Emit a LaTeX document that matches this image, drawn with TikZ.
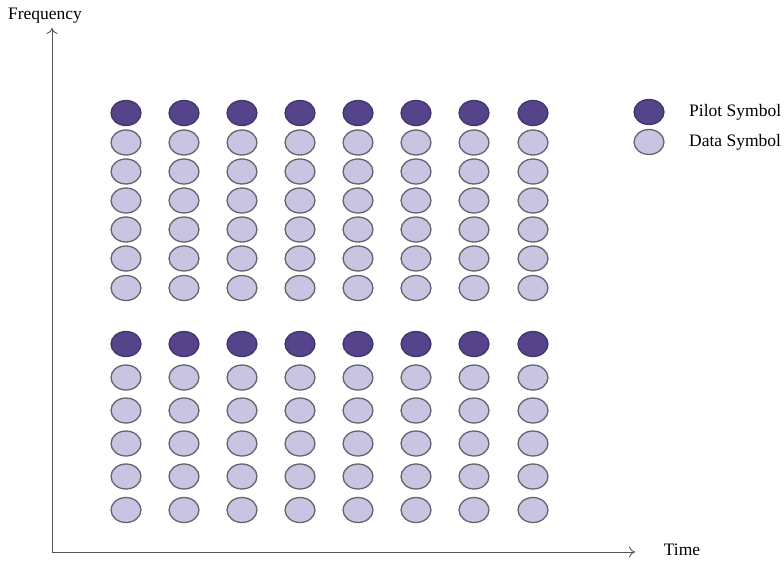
\documentclass[tikz,border=0pt]{standalone}
\usepackage{fontspec}
\setmainfont{Liberation Serif}
\usetikzlibrary{shapes.geometric,arrows.meta}
\definecolor{pilotfill}{RGB}{86,68,138}
\definecolor{pilotline}{RGB}{66,52,108}
\definecolor{datafill}{RGB}{200,196,226}
\definecolor{dataline}{RGB}{100,100,108}
\definecolor{axiscol}{RGB}{85,85,85}
\tikzset{
  sym/.style={ellipse, minimum width=30pt, minimum height=25pt, inner sep=0pt, line width=1.3pt},
  pilot/.style={sym, fill=pilotfill, draw=pilotline},
  data/.style={sym, fill=datafill, draw=dataline},
  axis/.style={draw=axiscol, line width=0.9pt, -{To[length=6pt,width=11pt]}},
  lbl/.style={font=\fontsize{17.5}{19}\selectfont, inner sep=0pt, text=black}
}
\begin{document}
\begin{tikzpicture}[x=1pt,y=-1pt]
\useasboundingbox (0,0) rectangle (784,560);
% axes
\coordinate (O) at (52,552);
\coordinate (ytop) at (52,28);
\coordinate (xend) at (635,552);
\draw[axis] (O) -- (ytop);
\draw[axis] (O) -- (xend);
\node[lbl] (freq) at (45,16) {Frequency};
\node[lbl] (time) at (682,550) {Time};
% grid
\foreach \c/\x in {1/126,2/184,3/242,4/300,5/358,6/416,7/474,8/533} {
  \node[pilot] (a-\c-1) at (\x,113) {};
  \foreach \r/\y in {2/142.5,3/171.5,4/200.5,5/229.5,6/258.5,7/288} {
    \node[data] (a-\c-\r) at (\x,\y) {};
  }
  \node[pilot] (b-\c-1) at (\x,344) {};
  \foreach \r/\y in {2/377.5,3/410.5,4/443.5,5/476.5,6/510} {
    \node[data] (b-\c-\r) at (\x,\y) {};
  }
}
% legend
\node[pilot] (lp) at (649,112) {};
\node[data] (ld) at (649,142) {};
\node[lbl, anchor=west] (lpt) at (689,112) {Pilot Symbol};
\node[lbl, anchor=west] (ldt) at (689,142) {Data Symbol};
\end{tikzpicture}
\end{document}
